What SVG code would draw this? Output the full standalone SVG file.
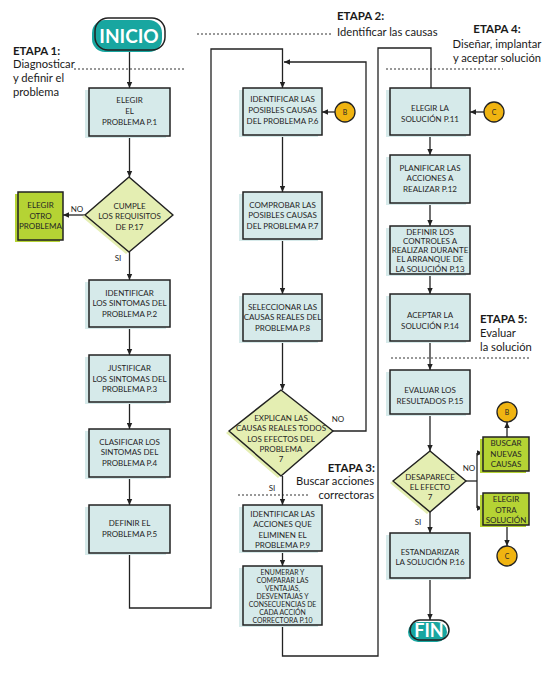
<svg xmlns="http://www.w3.org/2000/svg" width="550" height="675" viewBox="0 0 550 675">
<defs>
<marker id="ar" viewBox="0 0 10 10" refX="10" refY="5" markerWidth="6" markerHeight="6" markerUnits="userSpaceOnUse" orient="auto"><path d="M0,0.5 L10,5 L0,9.5 z" fill="#222"/></marker>
</defs>
<style>
.bf{fill:#d6eaea}
.bx{fill:#d6eaea;stroke:#222;stroke-width:1.5}
.lf{fill:#b5d334}
.lx{fill:#b5d334;stroke:#222;stroke-width:1.5}
.df{fill:#e4eeb2}
.dx{fill:#e4eeb2;stroke:#222;stroke-width:1.5;stroke-linejoin:round}
.ci{fill:#f0b411;stroke:#222;stroke-width:1.3}
.tf{fill:#18a6a0}
.to{fill:none;stroke:#222;stroke-width:1.5}
.t{font-family:Lato,"Liberation Sans",sans-serif;font-size:8px;fill:#262626;text-anchor:middle}
.ts{font-family:Lato,"Liberation Sans",sans-serif;font-size:6.9px;fill:#262626;text-anchor:middle}
.tl{font-family:Lato,"Liberation Sans",sans-serif;font-size:8px;fill:#262626;text-anchor:middle}
.tt{font-family:Lato,"Liberation Sans",sans-serif;font-weight:bold;fill:#fff;text-anchor:middle}
.et{font-family:Lato,"Liberation Sans",sans-serif;font-size:11.5px;font-weight:bold;fill:#1a1a1a}
.es{font-family:Lato,"Liberation Sans",sans-serif;font-size:11.2px;fill:#1a1a1a}
.c{fill:none;stroke:#222;stroke-width:1.3}
.d{fill:none;stroke:#333;stroke-width:1;stroke-dasharray:2,2}
</style>

<g id="separators">
<line class="d" x1="74" y1="69" x2="186" y2="69"/>
<line class="d" x1="197" y1="34" x2="332" y2="34"/>
<line class="d" x1="386" y1="69" x2="503" y2="69"/>
<line class="d" x1="391" y1="358" x2="529" y2="358"/>
<line class="d" x1="238" y1="495" x2="308" y2="495"/>
</g>

<g id="stages">
<text class="et" x="13" y="55">ETAPA 1:</text>
<text class="es" x="13" y="68">Diagnosticar</text>
<text class="es" x="13" y="82">y definir el</text>
<text class="es" x="13" y="96">problema</text>
<text class="et" x="337" y="20">ETAPA 2:</text>
<text class="es" x="337" y="36">Identificar las causas</text>
<text class="et" x="375" y="472" text-anchor="end">ETAPA 3:</text>
<text class="es" x="374" y="485" text-anchor="end">Buscar acciones</text>
<text class="es" x="374" y="499" text-anchor="end">correctoras</text>
<text class="et" x="497" y="33" text-anchor="middle">ETAPA 4:</text>
<text class="es" x="497" y="48" text-anchor="middle">Diseñar, implantar</text>
<text class="es" x="497" y="62" text-anchor="middle">y aceptar solución</text>
<text class="et" x="480" y="323">ETAPA 5:</text>
<text class="es" x="480" y="337">Evaluar</text>
<text class="es" x="480" y="351">la solución</text>
</g>

<g id="connectors">
<line class="c" x1="129.5" y1="52" x2="129.5" y2="88" marker-end="url(#ar)"/>
<line class="c" x1="129.5" y1="136" x2="129.5" y2="177" marker-end="url(#ar)"/>
<line class="c" x1="85" y1="215" x2="63" y2="215" marker-end="url(#ar)"/>
<line class="c" x1="129.5" y1="252" x2="129.5" y2="280" marker-end="url(#ar)"/>
<line class="c" x1="129.5" y1="327" x2="129.5" y2="355" marker-end="url(#ar)"/>
<line class="c" x1="129.5" y1="402" x2="129.5" y2="429" marker-end="url(#ar)"/>
<line class="c" x1="129.5" y1="477" x2="129.5" y2="505" marker-end="url(#ar)"/>
<polyline class="c" points="129.5,553 129.5,608 211,608 211,49 282.5,49 282.5,88" marker-end="url(#ar)"/>
<line class="c" x1="335" y1="112" x2="322" y2="112" marker-end="url(#ar)"/>
<line class="c" x1="282.5" y1="135" x2="282.5" y2="192" marker-end="url(#ar)"/>
<line class="c" x1="282.5" y1="239" x2="282.5" y2="294" marker-end="url(#ar)"/>
<line class="c" x1="282.5" y1="341" x2="282.5" y2="390" marker-end="url(#ar)"/>
<polyline class="c" points="333,431 366,431 366,62 284,62" marker-end="url(#ar)"/>
<line class="c" x1="282.5" y1="476" x2="282.5" y2="505" marker-end="url(#ar)"/>
<line class="c" x1="282.5" y1="551" x2="282.5" y2="566" marker-end="url(#ar)"/>
<polyline class="c" points="282.5,625 282.5,656 378,656 378,48 431,48 431,88"/>
<line class="c" x1="484" y1="112" x2="470" y2="112" marker-end="url(#ar)"/>
<line class="c" x1="430" y1="135" x2="430" y2="155" marker-end="url(#ar)"/>
<line class="c" x1="430" y1="203" x2="430" y2="226" marker-end="url(#ar)"/>
<line class="c" x1="430" y1="274" x2="430" y2="294" marker-end="url(#ar)"/>
<line class="c" x1="430" y1="341" x2="430" y2="370" marker-end="url(#ar)"/>
<line class="c" x1="430" y1="414" x2="430" y2="451" marker-end="url(#ar)"/>
<line class="c" x1="466" y1="481" x2="477" y2="481"/>
<line class="c" x1="477" y1="453" x2="477" y2="508"/>
<line class="c" x1="477" y1="453" x2="483" y2="453" marker-end="url(#ar)"/>
<line class="c" x1="477" y1="508" x2="483" y2="508" marker-end="url(#ar)"/>
<line class="c" x1="507" y1="437" x2="507" y2="422" marker-end="url(#ar)"/>
<line class="c" x1="507" y1="525" x2="507" y2="546" marker-end="url(#ar)"/>
<line class="c" x1="430" y1="512" x2="430" y2="533" marker-end="url(#ar)"/>
<line class="c" x1="430" y1="578" x2="430" y2="620" marker-end="url(#ar)"/>
<text class="tl" x="77" y="212">NO</text>
<text class="tl" x="118" y="261">SI</text>
<text class="tl" x="338" y="422">NO</text>
<text class="tl" x="272" y="491">SI</text>
<text class="tl" x="469" y="471">NO</text>
<text class="tl" x="418" y="525">SI</text>
</g>

<g id="inicio">
<rect class="tf" x="92" y="20" width="70" height="32" rx="13"/>
<rect class="to" x="95" y="18" width="70" height="32" rx="13"/>
<text class="tt" x="129" y="43" font-size="19">INICIO</text>
</g>

<g id="n1">
<rect class="bf" x="85" y="90" width="81" height="48"/>
<rect class="bx" x="89" y="88" width="81" height="48"/>
<text class="t" x="129.5" y="103">ELEGIR</text>
<text class="t" x="129.5" y="114">EL</text>
<text class="t" x="129.5" y="125">PROBLEMA P.1</text>
</g>

<g id="d1">
<polygon class="df" points="126,179 170,217 126,254 82,217"/>
<polygon class="dx" points="129,177 173,215 129,252 85,215"/>
<text class="t" x="129.5" y="209">CUMPLE</text>
<text class="t" x="129.5" y="219">LOS REQUISITOS</text>
<text class="t" x="129.5" y="230">DE P.17</text>
</g>

<g id="otro">
<rect class="lf" x="15" y="194" width="45" height="48"/>
<rect class="lx" x="18" y="192" width="45" height="48"/>
<text class="t" x="40.5" y="208">ELEGIR</text>
<text class="t" x="40.5" y="219">OTRO</text>
<text class="t" x="40.5" y="229">PROBLEMA</text>
</g>

<g id="n2">
<rect class="bf" x="85" y="282" width="81" height="47"/>
<rect class="bx" x="89" y="280" width="81" height="47"/>
<text class="t" x="129.5" y="296">IDENTIFICAR</text>
<text class="t" x="129.5" y="306">LOS SINTOMAS DEL</text>
<text class="t" x="129.5" y="317">PROBLEMA P.2</text>
</g>

<g id="n3">
<rect class="bf" x="85" y="357" width="81" height="47"/>
<rect class="bx" x="89" y="355" width="81" height="47"/>
<text class="t" x="129.5" y="371">JUSTIFICAR</text>
<text class="t" x="129.5" y="382">LOS SINTOMAS DEL</text>
<text class="t" x="129.5" y="392">PROBLEMA P.3</text>
</g>

<g id="n4">
<rect class="bf" x="85" y="431" width="81" height="48"/>
<rect class="bx" x="89" y="429" width="81" height="48"/>
<text class="t" x="129.5" y="445">CLASIFICAR LOS</text>
<text class="t" x="129.5" y="455">SINTOMAS DEL</text>
<text class="t" x="129.5" y="466">PROBLEMA P.4</text>
</g>

<g id="n5">
<rect class="bf" x="85" y="507" width="81" height="48"/>
<rect class="bx" x="89" y="505" width="81" height="48"/>
<text class="t" x="129.5" y="526">DEFINIR EL</text>
<text class="t" x="129.5" y="537">PROBLEMA P.5</text>
</g>

<g id="n6">
<rect class="bf" x="239" y="90" width="79" height="47"/>
<rect class="bx" x="243" y="88" width="79" height="47"/>
<text class="t" x="282.5" y="102">IDENTIFICAR LAS</text>
<text class="t" x="282.5" y="113">POSIBLES CAUSAS</text>
<text class="t" x="282.5" y="124">DEL PROBLEMA P.6</text>
</g>

<g id="b1">
<circle class="ci" cx="345" cy="112" r="10"/>
<text class="ts" x="345" y="114.5">B</text>
</g>

<g id="n7">
<rect class="bf" x="239" y="194" width="79" height="47"/>
<rect class="bx" x="243" y="192" width="79" height="47"/>
<text class="t" x="282.5" y="208">COMPROBAR LAS</text>
<text class="t" x="282.5" y="218">POSIBLES CAUSAS</text>
<text class="t" x="282.5" y="229">DEL PROBLEMA P.7</text>
</g>

<g id="n8">
<rect class="bf" x="239" y="296" width="79" height="47"/>
<rect class="bx" x="243" y="294" width="79" height="47"/>
<text class="t" x="282.5" y="310">SELECCIONAR LAS</text>
<text class="t" x="282.5" y="320">CAUSAS REALES DEL</text>
<text class="t" x="282.5" y="331">PROBLEMA P.8</text>
</g>

<g id="d2">
<polygon class="df" points="278,392 330,433 278,478 226,433"/>
<polygon class="dx" points="281,390 333,431 281,476 229,431"/>
<text class="t" x="281" y="421">EXPLICAN LAS</text>
<text class="t" x="281" y="431">CAUSAS REALES TODOS</text>
<text class="t" x="281" y="442">LOS EFECTOS DEL</text>
<text class="t" x="281" y="452">PROBLEMA</text>
<text class="t" x="281" y="462">7</text>
</g>

<g id="n9">
<rect class="bf" x="239" y="507" width="79" height="46"/>
<rect class="bx" x="243" y="505" width="79" height="46"/>
<text class="t" x="282.5" y="517">IDENTIFICAR LAS</text>
<text class="t" x="282.5" y="527">ACCIONES QUE</text>
<text class="t" x="282.5" y="538">ELIMINEN EL</text>
<text class="t" x="282.5" y="548">PROBLEMA P.9</text>
</g>

<g id="n10">
<rect class="bf" x="239" y="568" width="79" height="59"/>
<rect class="bx" x="243" y="566" width="79" height="59"/>
<text class="ts" x="282.5" y="574.5">ENUMERAR Y</text>
<text class="ts" x="282.5" y="582.5">COMPARAR LAS</text>
<text class="ts" x="282.5" y="590.5">VENTAJAS,</text>
<text class="ts" x="282.5" y="598.5">DESVENTAJAS Y</text>
<text class="ts" x="282.5" y="606.5">CONSECUENCIAS DE</text>
<text class="ts" x="282.5" y="614.5">CADA ACCIÓN</text>
<text class="ts" x="282.5" y="622.5">CORRECTORA P.10</text>
</g>

<g id="n11">
<rect class="bf" x="386" y="90" width="80" height="47"/>
<rect class="bx" x="390" y="88" width="80" height="47"/>
<text class="t" x="430" y="111">ELEGIR LA</text>
<text class="t" x="430" y="122">SOLUCIÓN P.11</text>
</g>

<g id="c1">
<circle class="ci" cx="494" cy="112" r="10"/>
<text class="ts" x="494" y="114.5">C</text>
</g>

<g id="n12">
<rect class="bf" x="386" y="157" width="80" height="48"/>
<rect class="bx" x="390" y="155" width="80" height="48"/>
<text class="t" x="430" y="171">PLANIFICAR LAS</text>
<text class="t" x="430" y="181">ACCIONES A</text>
<text class="t" x="430" y="192">REALIZAR P.12</text>
</g>

<g id="n13">
<rect class="bf" x="386" y="228" width="80" height="48"/>
<rect class="bx" x="390" y="226" width="80" height="48"/>
<text class="t" x="430" y="235">DEFINIR LOS</text>
<text class="t" x="430" y="244">CONTROLES A</text>
<text class="t" x="430" y="253">REALIZAR DURANTE</text>
<text class="t" x="430" y="262">EL ARRANQUE DE</text>
<text class="t" x="430" y="271.5">LA SOLUCIÓN P.13</text>
</g>

<g id="n14">
<rect class="bf" x="386" y="296" width="80" height="47"/>
<rect class="bx" x="390" y="294" width="80" height="47"/>
<text class="t" x="430" y="318">ACEPTAR LA</text>
<text class="t" x="430" y="329">SOLUCIÓN P.14</text>
</g>

<g id="n15">
<rect class="bf" x="386" y="372" width="80" height="44"/>
<rect class="bx" x="390" y="370" width="80" height="44"/>
<text class="t" x="430" y="393">EVALUAR LOS</text>
<text class="t" x="430" y="404">RESULTADOS P.15</text>
</g>

<g id="d3">
<polygon class="df" points="427,453 463,483 427,514 390,483"/>
<polygon class="dx" points="430,451 466,481 430,512 393,481"/>
<text class="t" x="430" y="480">DESAPARECE</text>
<text class="t" x="430" y="490">EL EFECTO</text>
<text class="t" x="430" y="500">7</text>
</g>

<g id="buscar">
<rect class="lf" x="480" y="439" width="46" height="34"/>
<rect class="lx" x="483" y="437" width="46" height="34"/>
<text class="t" x="506" y="446">BUSCAR</text>
<text class="t" x="506" y="457">NUEVAS</text>
<text class="t" x="506" y="467">CAUSAS</text>
</g>

<g id="b2">
<circle class="ci" cx="507" cy="412" r="10"/>
<text class="ts" x="507" y="414.5">B</text>
</g>

<g id="otra">
<rect class="lf" x="480" y="495" width="46" height="32"/>
<rect class="lx" x="483" y="493" width="46" height="32"/>
<text class="t" x="506" y="502">ELEGIR</text>
<text class="t" x="506" y="513">OTRA</text>
<text class="t" x="506" y="523">SOLUCIÓN</text>
</g>

<g id="c2">
<circle class="ci" cx="507" cy="556" r="10"/>
<text class="ts" x="507" y="558.5">C</text>
</g>

<g id="n16">
<rect class="bf" x="386" y="535" width="80" height="45"/>
<rect class="bx" x="390" y="533" width="80" height="45"/>
<text class="t" x="430" y="555">ESTANDARIZAR</text>
<text class="t" x="430" y="565">LA SOLUCIÓN P.16</text>
</g>

<g id="fin">
<rect class="tf" x="408" y="622" width="39" height="20" rx="10"/>
<rect class="to" x="410" y="620" width="39" height="20" rx="10"/>
<text class="tt" x="429" y="637" font-size="18">FIN</text>
</g>
</svg>
